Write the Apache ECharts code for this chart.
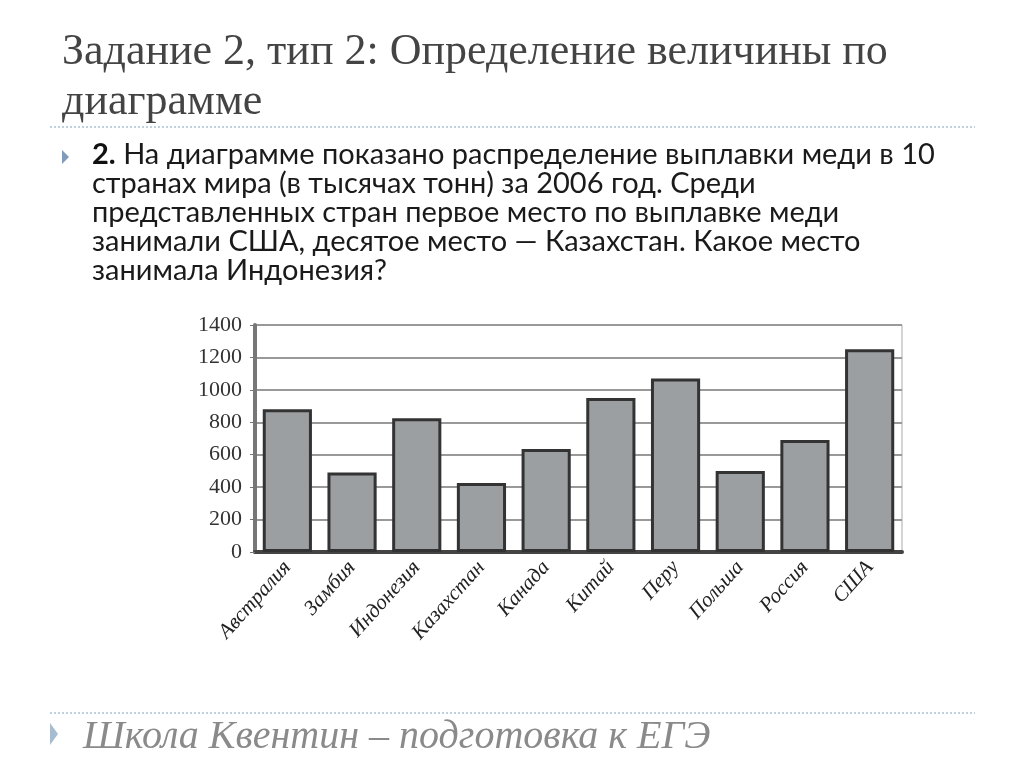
<!DOCTYPE html>
<html><head><meta charset="utf-8">
<script src="https://cdn.jsdelivr.net/npm/echarts@6/dist/echarts.min.js"></script>
<style>html,body{margin:0;padding:0;background:#fff}#c{width:1024px;height:767px}</style>
</head><body><div id="c"></div>
<script>
const categories = ['Австралия','Замбия','Индонезия','Казахстан','Канада','Китай','Перу','Польша','Россия','США'];
const values = [880, 490, 825, 425, 635, 950, 1070, 500, 690, 1250];
const yTicks = { min: 0, max: 1400, interval: 200 };
const titleLines = ['Задание 2, тип 2: Определение величины по', 'диаграмме'];
const bodyLines = [
  'На диаграмме показано распределение выплавки меди в 10',
  'странах мира (в тысячах тонн) за 2006 год. Среди',
  'представленных стран первое место по выплавке меди',
  'занимали США, десятое место — Казахстан. Какое место',
  'занимала Индонезия?'
];
const footer = 'Школа Квентин – подготовка к ЕГЭ';

const chart = echarts.init(document.getElementById('c'));
const graphics = [];
titleLines.forEach((t, i) => graphics.push({type:'text', left:62, top:30 + i*50, style:{text:t, font:'44px "Liberation Serif"', fill:'#444'}}));
graphics.push({type:'line', shape:{x1:50,y1:127,x2:975,y2:127}, style:{stroke:'#a9c2d3', lineWidth:1.5, lineDash:[2,2]}});
graphics.push({type:'polygon', shape:{points:[[62,150],[62,164],[69,157]]}, style:{fill:'#7f9cbb'}});
bodyLines.forEach((t, i) => {
  graphics.push({type:'text', left:92, top:140 + i*29, style:{
    text: i===0 ? '{b|2.} ' + t : t,
    font:'29px Lato', fill:'#1a1a1a',
    rich:{b:{font:'bold 29px Lato', fill:'#111'}}
  }});
});
graphics.push({type:'line', shape:{x1:50,y1:713,x2:975,y2:713}, style:{stroke:'#a9c2d3', lineWidth:1.5, lineDash:[2,2]}});
graphics.push({type:'polygon', shape:{points:[[50,723],[50,745],[58,734]]}, style:{fill:'#a6bdd1'}});
graphics.push({type:'text', left:83, top:717, style:{text:footer, font:'italic 40px "Liberation Serif"', fill:'#8a8a8a'}});

chart.setOption({
  animation:false,
  grid:{left:255, right:122, top:325, bottom:215, show:true, borderColor:'#aaa', borderWidth:1},
  xAxis:{type:'category', data:categories,
    axisLine:{lineStyle:{color:'#444', width:4}},
    axisTick:{show:false},
    axisLabel:{rotate:48, margin:12, fontFamily:'Liberation Serif', fontStyle:'italic', fontSize:21, color:'#222'}
  },
  yAxis:{type:'value', min:yTicks.min, max:yTicks.max, interval:yTicks.interval,
    axisLine:{show:true, lineStyle:{color:'#777', width:4}},
    axisTick:{show:true, length:5, lineStyle:{color:'#777'}},
    splitLine:{lineStyle:{color:'#999', width:2}},
    axisLabel:{fontFamily:'Liberation Serif', fontSize:22, color:'#333', margin:13, formatter: v => String(v)}
  },
  series:[{type:'bar', data:values, barWidth:'76%',
    itemStyle:{color:'#9c9fa2', borderColor:'#333', borderWidth:3}
  }],
  graphic:graphics
});
</script></body></html>
